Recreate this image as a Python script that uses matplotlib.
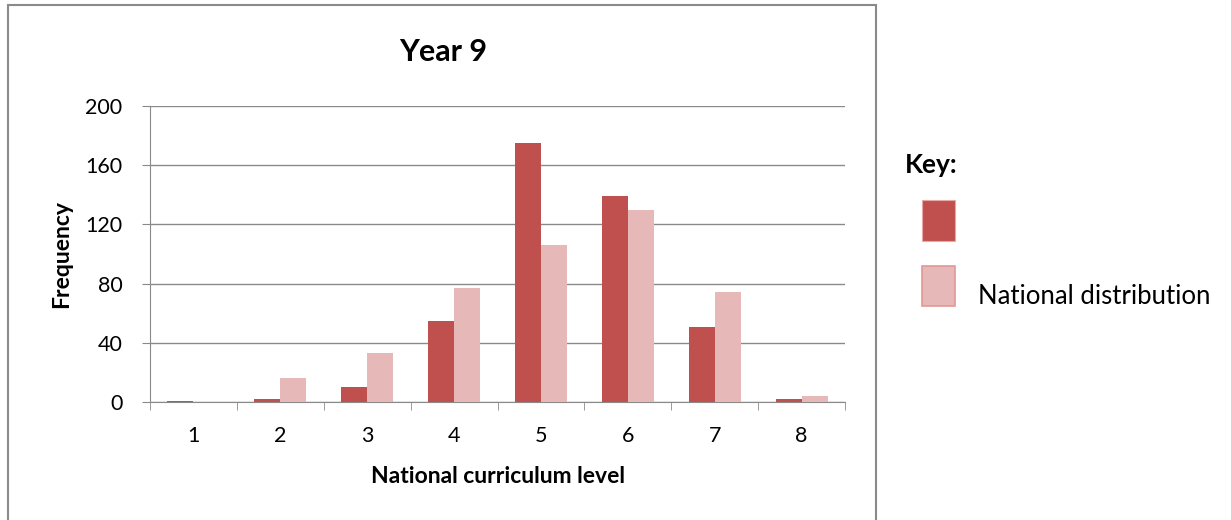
import matplotlib
matplotlib.use("Agg")
import matplotlib.pyplot as plt
import numpy as np
from matplotlib.patches import Rectangle

# ── Data ────────────────────────────────────────────────────────────────
levels = ["1", "2", "3", "4", "5", "6", "7", "8"]
school = [1, 2, 10, 55, 175, 139, 51, 2]
national = [0, 16, 33, 77, 106, 130, 74, 4]
y_ticks = [0, 40, 80, 120, 160, 200]

DARK = "#C0504D"
LIGHT = "#E6B9B8"
GREY = "#8a8a8a"
plt.rcParams["font.family"] = ["Lato", "DejaVu Sans"]

fig = plt.figure(figsize=(12.31, 5.2), dpi=100)
ax = fig.add_axes([0.1219, 0.2269, 0.5646, 0.5692])

# outer chart frame
fig.patches.append(Rectangle((8 / 1231, -0.01), 868 / 1231, 1 - 5 / 520 + 0.01,
                             transform=fig.transFigure, fill=False,
                             edgecolor=GREY, linewidth=1.5))

x = np.arange(len(levels))
w = 0.3
ax.bar(x - w / 2, school, w, color=DARK, edgecolor="none", zorder=3)
ax.bar(x + w / 2, national, w, color=LIGHT, edgecolor="none", zorder=3)

ax.set_xlim(-0.5, len(levels) - 0.5)
ax.set_ylim(0, 200)
ax.set_yticks(y_ticks)
ax.set_yticklabels([str(v) for v in y_ticks], fontsize=15.5)
ax.set_xticks(x)
ax.set_xticklabels(levels, fontsize=15.5)
ax.tick_params(axis="x", length=0, pad=17)
ax.set_xticks(np.arange(len(levels) + 1) - 0.5, minor=True)
ax.tick_params(axis="x", which="minor", length=6, color=GREY)
ax.tick_params(axis="y", length=6, color=GREY, pad=14)
ax.grid(True, axis="y", color=GREY, linewidth=1, zorder=0)

for side in ["top", "right"]:
    ax.spines[side].set_visible(False)
for side in ["left", "bottom"]:
    ax.spines[side].set_color(GREY)

ax.set_ylabel("Frequency", fontsize=16.5, fontweight="bold", va="center")
ax.yaxis.set_label_coords(-0.1266, 0.5)
ax.set_xlabel("National curriculum level", fontsize=16.5, fontweight="bold", va="center")
ax.xaxis.set_label_coords(0.5, -0.25)
fig.text(443 / 1231, 1 - 52 / 520, "Year 9", ha="center", va="center",
         fontsize=22, fontweight="bold")

# ── Key ─────────────────────────────────────────────────────────────────
fig.text(905 / 1231, 1 - 165 / 520, "Key:", ha="left", va="center",
         fontsize=19, fontweight="bold")
fig.patches.append(Rectangle((922 / 1231, 1 - 241 / 520), 33 / 1231, 41 / 520,
                             transform=fig.transFigure, facecolor=DARK,
                             edgecolor="#e8a8a6", linewidth=0.8))
fig.patches.append(Rectangle((922 / 1231, 1 - 306 / 520), 33 / 1231, 40 / 520,
                             transform=fig.transFigure, facecolor=LIGHT,
                             edgecolor="#e09896", linewidth=1.2))
fig.text(978 / 1231, 1 - 297 / 520, "National distribution", ha="left",
         va="center", fontsize=18.5)

plt.savefig("out.png", dpi=100)
plt.close()
